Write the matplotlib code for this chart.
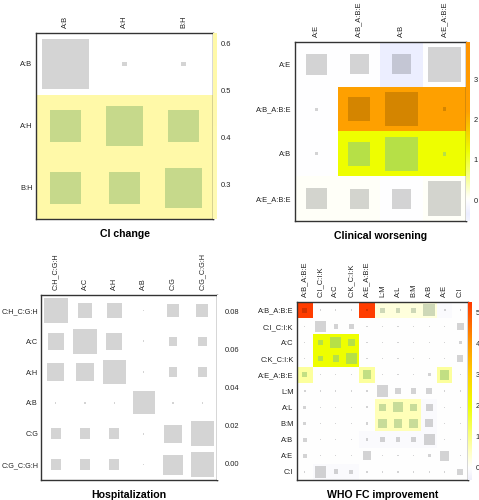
import numpy as np
import matplotlib
matplotlib.use("Agg")
import matplotlib.pyplot as plt
from matplotlib.colors import LinearSegmentedColormap, Normalize
from matplotlib.patches import Rectangle

plt.rcParams['font.family'] = ['Liberation Sans', 'DejaVu Sans']

# ---------------- data ----------------
ci_labels = ["A:B", "A:H", "B:H"]
ci_heat = [[0.20, 0.20, 0.20],
           [0.62, 0.62, 0.62],
           [0.62, 0.62, 0.62]]
ci_size = [[0.80, 0.07, 0.07],
           [0.51, 0.64, 0.51],
           [0.53, 0.52, 0.63]]
ci_ticks = [0.3, 0.4, 0.5, 0.6]

cw_labels = ["A:E", "A:B_A:B:E", "A:B", "A:E_A:B:E"]
cw_heat = [[0.0, 0.0, -0.35, 0.0],
           [0.0, 2.2, 2.2, 2.2],
           [0.0, 1.2, 1.2, 1.2],
           [0.05, 0.05, 0.0, 0.05]]
cw_size = [[0.48, 0.45, 0.45, 0.78],
           [0.07, 0.52, 0.77, 0.08],
           [0.07, 0.52, 0.77, 0.08],
           [0.48, 0.45, 0.45, 0.78]]
cw_ticks = [0, 1, 2, 3]

ho_labels = ["C:H_C:G:H", "A:C", "A:H", "A:B", "C:G", "C:G_C:G:H"]
ho_heat = [[0.0] * 6 for _ in range(6)]
ho_size = [[0.82, 0.50, 0.50, 0.05, 0.40, 0.40],
           [0.55, 0.80, 0.55, 0.05, 0.30, 0.30],
           [0.60, 0.60, 0.80, 0.05, 0.30, 0.30],
           [0.05, 0.05, 0.05, 0.75, 0.05, 0.05],
           [0.35, 0.35, 0.35, 0.05, 0.60, 0.80],
           [0.35, 0.35, 0.35, 0.05, 0.65, 0.80]]
ho_ticks = [0.00, 0.02, 0.04, 0.06, 0.08]

who_labels = ["A:B_A:B:E", "C:I_C:I:K", "A:C", "C:K_C:I:K", "A:E_A:B:E",
              "L:M", "A:L", "B:M", "A:B", "A:E", "C:I"]
who_heat = [
    [5.3, 0, 0, 0, 5.3, 0.3, 0.3, 0.3, 0.3, -0.1, 0],
    [0, 0, 0, 0, 0, 0, 0, 0, 0, 0, 0],
    [0, 2.0, 2.0, 2.0, 0, 0, 0, 0, 0, 0, 0],
    [0, 2.0, 2.0, 2.0, 0, 0, 0, 0, 0, 0, 0],
    [0.8, 0, 0, 0, 0.8, 0, 0, 0, 0, 0.8, 0],
    [0, 0, 0, 0, 0, 0, 0, 0, 0, 0, 0],
    [0, 0, 0, 0, 0, 0.6, 0.6, 0.6, -0.1, 0, 0],
    [0, 0, 0, 0, 0, 0.6, 0.6, 0.6, -0.1, 0, 0],
    [0, 0, 0, 0, -0.1, -0.1, -0.1, -0.1, -0.1, 0, 0],
    [0, 0, 0, 0, 0, 0, 0, 0, 0, 0, 0],
    [0, -0.1, -0.1, -0.1, 0, 0, 0, 0, 0, 0, 0],
]
who_size = [
    [0.30, 0.08, 0.08, 0.08, 0.15, 0.30, 0.30, 0.30, 0.75, 0.15, 0.08],
    [0.08, 0.70, 0.30, 0.30, 0.08, 0.08, 0.08, 0.08, 0.08, 0.08, 0.45],
    [0.08, 0.30, 0.70, 0.45, 0.08, 0.08, 0.08, 0.08, 0.08, 0.08, 0.20],
    [0.08, 0.35, 0.40, 0.70, 0.08, 0.08, 0.08, 0.08, 0.08, 0.08, 0.40],
    [0.30, 0.08, 0.08, 0.08, 0.55, 0.08, 0.08, 0.08, 0.20, 0.60, 0.08],
    [0.10, 0.08, 0.08, 0.08, 0.08, 0.70, 0.35, 0.35, 0.35, 0.08, 0.08],
    [0.20, 0.08, 0.08, 0.08, 0.15, 0.45, 0.65, 0.45, 0.45, 0.08, 0.08],
    [0.20, 0.08, 0.08, 0.08, 0.15, 0.55, 0.55, 0.60, 0.50, 0.08, 0.08],
    [0.25, 0.08, 0.08, 0.08, 0.15, 0.30, 0.30, 0.30, 0.70, 0.08, 0.08],
    [0.25, 0.08, 0.08, 0.08, 0.55, 0.08, 0.08, 0.08, 0.20, 0.60, 0.08],
    [0.08, 0.70, 0.30, 0.25, 0.08, 0.08, 0.08, 0.08, 0.08, 0.08, 0.40],
]
who_ticks = [0, 1, 2, 3, 4, 5]

FS = 5.4


def make_cmap(nodes, vmin, vmax):
    pts = [((v - vmin) / (vmax - vmin), c) for v, c in nodes]
    return LinearSegmentedColormap.from_list("c", pts, N=512)


def square_color(rgb):
    r, g, b = rgb[:3]
    out = np.array([r, g, b]) * 0.83
    if g >= 0.85 * r:
        y = min(0.4, max(0.0, min(r, g) - b))
        out = out * np.array([1 - 0.2 * y, 1 + 0.15 * y, 1.0])
        out[2] = max(out[2], 0.7 * y)
    return np.clip(out, 0, 1)


def panel(fig, rect, labels, heat, size, title, nodes, vmin, vmax, ticks,
          fmt, under=None, fs=FS, ypad=2.5):
    n = len(labels)
    heat = np.array(heat, dtype=float)
    size = np.array(size, dtype=float)
    cmap = make_cmap(nodes, vmin, vmax)
    if under is not None:
        cmap.set_under(under)
    norm = Normalize(vmin, vmax)
    ax = fig.add_axes(rect)
    ax.imshow(heat, cmap=cmap, norm=norm, extent=(-0.5, n - 0.5, n - 0.5, -0.5),
              interpolation="nearest", aspect="auto")
    for i in range(n):
        for j in range(n):
            s = size[i, j]
            c = square_color(cmap(norm(heat[i, j])))
            ax.add_patch(Rectangle((j - s / 2, i - s / 2), s, s, facecolor=c,
                                   edgecolor="none"))
    ax.set_xlim(-0.5, n - 0.5)
    ax.set_ylim(n - 0.5, -0.5)
    ax.set_xticks(range(n))
    ax.set_yticks(range(n))
    ax.set_xticklabels(labels, rotation=90, fontsize=fs, color="#222222")
    ax.set_yticklabels(labels, fontsize=fs, color="#222222")
    ax.xaxis.tick_top()
    ax.tick_params(axis="y", length=0, pad=ypad)
    ax.tick_params(axis="x", length=0, pad=3.5)
    for sp in ax.spines.values():
        sp.set_linewidth(1.0)
        sp.set_color("#333333")
    ax.set_xlabel(title, fontsize=7.6, fontweight="bold", labelpad=7)
    ax.xaxis.set_label_position("bottom")

    # thin colour bar at right
    cax = fig.add_axes([rect[0] + rect[2], rect[1], 4 / 479, rect[3]])
    grad = np.linspace(vmax, vmin, 256).reshape(-1, 1)
    cax.imshow(grad, cmap=cmap, norm=norm, aspect="auto",
               extent=(0, 1, vmin, vmax))
    cax.set_xticks([])
    cax.yaxis.tick_right()
    cax.set_yticks(ticks)
    cax.set_yticklabels([fmt.format(t) for t in ticks], fontsize=FS,
                        color="#222222")
    cax.tick_params(length=0, pad=2.5)
    cax.set_ylim(vmin, vmax)
    for sp in cax.spines.values():
        sp.set_visible(False)
    return ax


fig = plt.figure(figsize=(4.79, 5.0), dpi=100)

panel(fig, [36 / 479, 1 - 219 / 500, 177 / 479, 186 / 500],
      ci_labels, ci_heat, ci_size, "CI change",
      [(0.227, "#fffbb4"), (0.623, "#fff9a8")], 0.227, 0.623,
      ci_ticks, "{:.1f}", under="white")

panel(fig, [295 / 479, 1 - 221 / 500, 171 / 479, 179 / 500],
      cw_labels, cw_heat, cw_size, "Clinical worsening",
      [(-0.52, "#f2f4ff"), (-0.35, "#eceeff"), (0.0, "#ffffff"), (0.1, "#fffff0"),
       (1.2, "#eeff00"), (2.2, "#ffa000"), (3.92, "#ff9400")],
      -0.52, 3.92, cw_ticks, "{:d}")

panel(fig, [41 / 479, 1 - 480 / 500, 176 / 479, 185 / 500],
      ho_labels, ho_heat, ho_size, "Hospitalization",
      [(-0.009, "#ffffff"), (0.089, "#ffffff")], -0.009, 0.089,
      ho_ticks, "{:.2f}", fs=5.2, ypad=2.0)

panel(fig, [297 / 479, 1 - 480 / 500, 171 / 479, 178 / 500],
      who_labels, who_heat, who_size, "WHO FC improvement",
      [(-0.39, "#eeeefa"), (0.0, "#ffffff"), (0.6, "#ffffb8"),
       (2.0, "#eeff00"), (3.0, "#ffd000"), (4.0, "#ff9a00"), (5.35, "#ff3a00")],
      -0.39, 5.35, who_ticks, "{:d}")

fig.savefig("out.png", dpi=100)
